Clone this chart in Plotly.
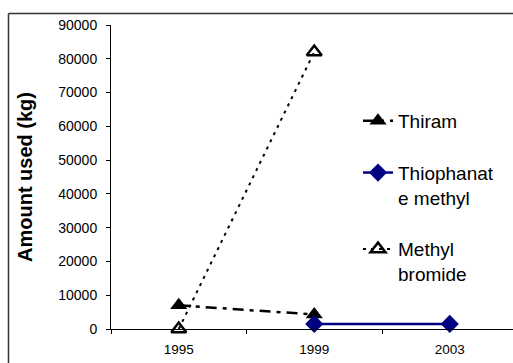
import plotly.graph_objects as go

years = ["1995", "1999", "2003"]
thiram_x = ["1995", "1999"]
thiram_y = [7000, 4300]
thioph_x = ["1999", "2003"]
thioph_y = [1500, 1500]
mb_x = ["1995", "1999"]
mb_y = [0, 82000]
y_ticks = [0, 10000, 20000, 30000, 40000, 50000, 60000, 70000, 80000, 90000]

FONT = "Liberation Sans, Arial, sans-serif"

fig = go.Figure()
fig.add_trace(go.Scatter(
    x=thiram_x, y=thiram_y, name="Thiram", mode="lines+markers",
    line=dict(color="black", width=2.5, dash="11px,6px,4px,6px"),
    marker=dict(symbol="triangle-up", size=15, color="black"),
    cliponaxis=False, legendgroup="a"))
fig.add_trace(go.Scatter(
    x=thioph_x, y=thioph_y, name="Thiophanat<br>e methyl", mode="lines+markers",
    line=dict(color="#000080", width=2.5),
    marker=dict(symbol="diamond", size=14, color="#000080"),
    cliponaxis=False, legendgroup="b"))
fig.add_trace(go.Scatter(
    x=mb_x, y=mb_y, name="Methyl<br>bromide", mode="lines+markers",
    line=dict(color="black", width=2, dash="3px,5px"),
    marker=dict(symbol="triangle-up-open", size=13, color="black",
                line=dict(width=2.5, color="black")),
    cliponaxis=False, legendgroup="c"))

W, H = 513, 363
L, R, T, B = 111, 0, 25, 34
pw, ph = W - L - R, H - T - B

fig.update_layout(
    width=W, height=H,
    margin=dict(l=L, r=R, t=T, b=B),
    paper_bgcolor="white", plot_bgcolor="white",
    font=dict(family=FONT, color="black"),
    showlegend=True,
    legend=dict(x=(358 - L) / pw, y=1 - (102 - T) / ph, xanchor="left", yanchor="top",
                font=dict(size=19, family=FONT), valign="top",
                tracegroupgap=24, bgcolor="rgba(0,0,0,0)", itemwidth=30),
    xaxis=dict(type="category", categoryarray=years, categoryorder="array",
               range=[-0.5, -0.5 + pw / 135.5],
               showline=True, linecolor="black", linewidth=1,
               ticks="outside", tickson="boundaries", ticklen=4, tickcolor="black",
               tickfont=dict(size=13.5, family=FONT), ticklabelstandoff=8,
               showgrid=False, zeroline=False, fixedrange=True),
    yaxis=dict(range=[0, 90000], tickvals=y_ticks, tickformat="d",
               showline=True, linecolor="black", linewidth=1,
               ticks="outside", ticklen=4, tickcolor="black",
               tickfont=dict(size=14, family=FONT), ticklabelstandoff=6,
               showgrid=False, zeroline=False,
               title=dict(text="<b>Amount used (kg)</b>", font=dict(size=20, family=FONT),
                          standoff=20)),
)

# outer chart-area border: only its left and top edges fall inside the image
bx = (8.5 - L) / pw
by = 1 + (T - 13.5) / ph
fig.add_shape(type="line", xref="paper", yref="paper", x0=bx, x1=bx, y0=-0.5, y1=by,
              line=dict(color="#333333", width=1.5))
fig.add_shape(type="line", xref="paper", yref="paper", x0=bx, x1=1.5, y0=by, y1=by,
              line=dict(color="#333333", width=1.5))

fig.write_html("out.html")
